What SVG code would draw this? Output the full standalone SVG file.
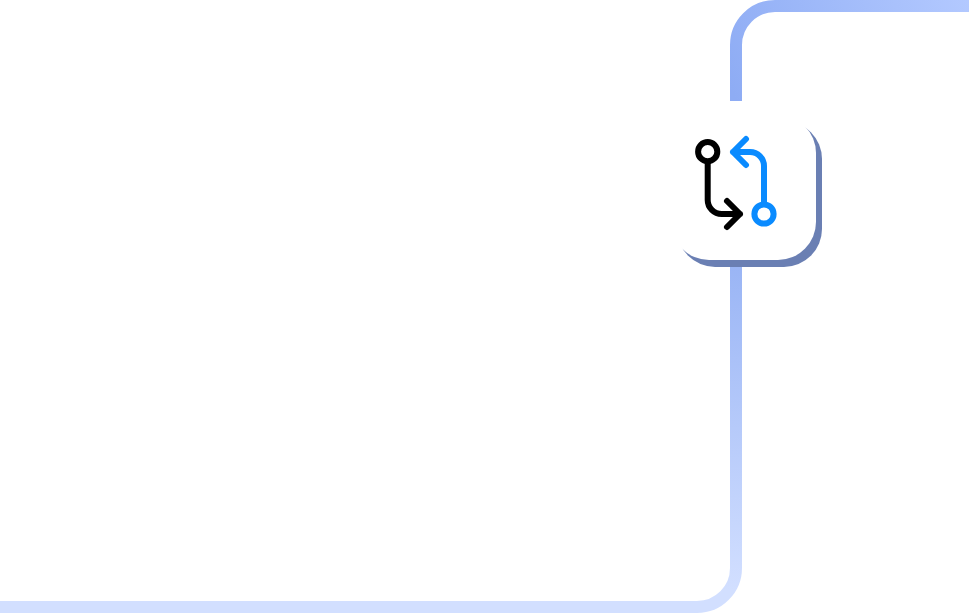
<svg xmlns="http://www.w3.org/2000/svg" width="969" height="613" viewBox="0 0 969 613">
  <style>
    .rail { fill: none; stroke-width: 12; }
    .ic { fill: none; stroke-width: 6; stroke-linecap: round; stroke-linejoin: round; }
    .black { stroke: #000; }
    .blue { stroke: #0a8bff; }
  </style>
  <defs>
    <linearGradient id="gTop" gradientUnits="userSpaceOnUse" x1="969" y1="0" x2="736" y2="101">
      <stop offset="0" stop-color="#b3c9ff"/>
      <stop offset="1" stop-color="#8eacf4"/>
    </linearGradient>
    <linearGradient id="gBottom" gradientUnits="userSpaceOnUse" x1="736" y1="267" x2="736" y2="590">
      <stop offset="0" stop-color="#9ab5f5"/>
      <stop offset="1" stop-color="#d2dfff"/>
    </linearGradient>
  </defs>
  <rect width="969" height="613" fill="#fff"/>
  <g id="connectors">
    <path class="rail" stroke="url(#gTop)" d="M736 101V45A39 39 0 0 1 775 6H969"/>
    <path class="rail" stroke="url(#gBottom)" d="M736 267V568A39 39 0 0 1 697 607H0"/>
  </g>
  <g id="node-pull-request">
    <rect x="677" y="121" width="145" height="146" rx="38" fill="#6a7fb3"/>
    <rect x="671" y="115" width="145" height="145" rx="38" fill="#fff"/>
    <circle class="ic black" cx="707.7" cy="151.7" r="9.6"/>
    <path class="ic black" d="M707.7 162V200A14 14 0 0 0 721.7 214H740M727 201L740 214L727 227"/>
    <circle class="ic blue" cx="764" cy="214" r="9.6"/>
    <path class="ic blue" d="M764 204V166A14 14 0 0 0 750 152H733M746 139L733 152L746 165"/>
  </g>
</svg>
